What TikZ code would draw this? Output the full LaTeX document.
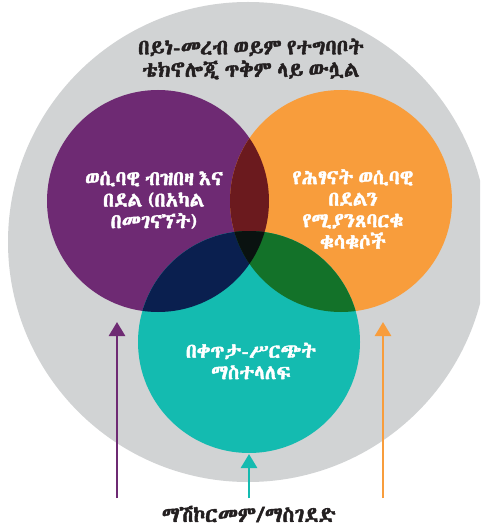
\documentclass[tikz,border=0pt]{standalone}
\usepackage{fontspec}
\usetikzlibrary{arrows.meta}
\newif\iffoundeth
\def\ethname{DejaVu Sans}
\def\tryeth#1{\iffoundeth\else
  \IfFontExistsTF{#1}{\font\ethtestf="#1" at 10pt
    \iffontchar\ethtestf"1260 \global\foundethtrue\gdef\ethname{#1}\fi}{}\fi}
\tryeth{Abyssinica SIL}
\tryeth{FreeSans}
\tryeth{FreeSerif}
\tryeth{DejaVu Sans}
\tryeth{Noto Sans}
\tryeth{Open Sans}
\tryeth{Unifont}
\edef\ethdo{\noexpand\newfontfamily\noexpand\eth[AutoFakeBold=2,WordSpace=0.55]{\ethname}}
\ethdo
\definecolor{cgray}{HTML}{D1D3D4}
\definecolor{cpurple}{HTML}{6E2A73}
\definecolor{corange}{HTML}{F89D3C}
\definecolor{cteal}{HTML}{14BBB0}
\definecolor{cpo}{HTML}{6B1A1E}
\definecolor{cpt}{HTML}{0A1F4F}
\definecolor{cot}{HTML}{137229}
\definecolor{cpot}{HTML}{0A1210}
\definecolor{ctext}{HTML}{231F20}
\tikzset{
  darktext/.style={font=\eth\bfseries\fontsize{21.5}{22.5}\selectfont, text=ctext, align=center, inner sep=0pt},
  lighttext/.style={font=\eth\bfseries\fontsize{20.5}{21.5}\selectfont, text=white, align=center, inner sep=0pt},
  uparrow/.style={line width=2.6pt, -{Triangle[width=16pt,length=14pt]}},
}
\begin{document}
\begin{tikzpicture}[x=1pt,y=-1pt]
\useasboundingbox (0,0) rectangle (480,529);
\fill[white] (0,0) rectangle (480,529);
% outer gray circle
\begin{scope}
\clip (0,0) rectangle (480,529);
\fill[cgray] (248,242) circle (240);
\end{scope}
% three circles
\fill[cpurple] (158,201) circle (111);
\fill[corange] (341,201) circle (111);
\fill[cteal] (249,342) circle (111);
% pairwise overlaps
\begin{scope}
\clip (158,201) circle (111);
\fill[cpo] (341,201) circle (111);
\fill[cpt] (249,342) circle (111);
\end{scope}
\begin{scope}
\clip (341,201) circle (111);
\fill[cot] (249,342) circle (111);
\end{scope}
\begin{scope}
\clip (158,201) circle (111);
\clip (341,201) circle (111);
\fill[cpot] (249,342) circle (111);
\end{scope}
% texts
\node[darktext] (title) at (251,59) {በይነ-መረብ ወይም የተግባቦት\\ቴክኖሎጂ ጥቅም ላይ ውሏል};
\node[lighttext] (ptext) at (154,200) {ወሲባዊ ብዝበዛ እና\\በደል (በአካል\\በመገናኘት)};
\node[lighttext] (otext) at (353,209) {የሕፃናት ወሲባዊ\\በደልን\\የሚያንጸባርቁ\\ቁሳቁሶች};
\node[lighttext] (ttext) at (251,361) {በቀጥታ-ሥርጭት\\ማስተላለፍ};
\node[darktext] (bottom) at (249,514) {ማሽኮርመም/ማስገደድ};
% arrows
\coordinate (pa) at (117,498);
\coordinate (pb) at (117,322);
\coordinate (ta) at (249,498);
\coordinate (tb) at (249,454);
\coordinate (oa) at (383,498);
\coordinate (ob) at (383,322);
\draw[uparrow, cpurple] (pa) -- (pb);
\draw[uparrow, cteal] (ta) -- (tb);
\draw[uparrow, corange] (oa) -- (ob);
\end{tikzpicture}
\end{document}
